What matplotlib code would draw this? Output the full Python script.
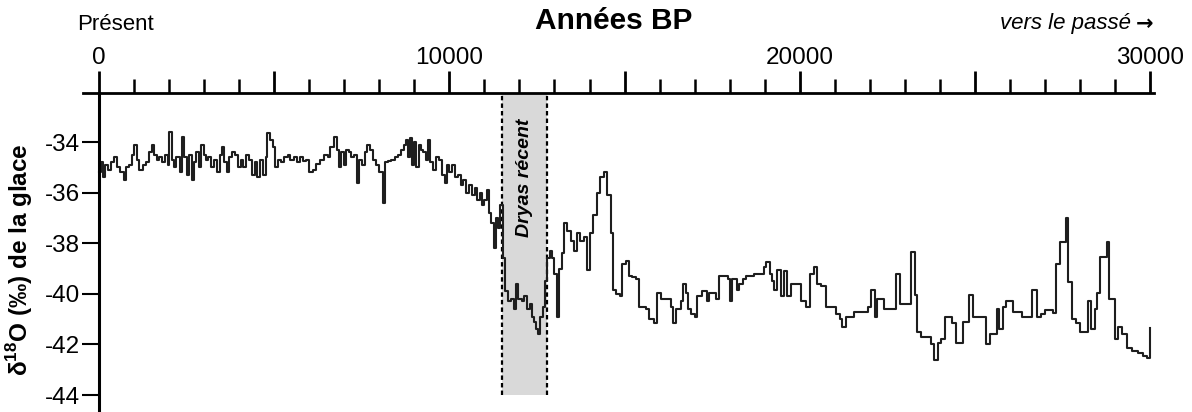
import matplotlib.pyplot as plt
from matplotlib.ticker import FixedLocator, FixedFormatter

plt.rcParams['font.family'] = ['Liberation Sans', 'DejaVu Sans']
plt.rcParams['mathtext.fontset'] = 'custom'
plt.rcParams['mathtext.rm'] = 'Liberation Sans'
plt.rcParams['mathtext.bf'] = 'Liberation Sans:bold'

# Years BP and d18O values (step curve)
years = [0, 60, 120, 180, 260, 340, 420, 500, 600, 700, 780, 860, 940, 1000,
         1080, 1150, 1250, 1330, 1420, 1500, 1560, 1640, 1720, 1800, 1880,
         1960, 2000, 2080, 2140, 2200, 2300, 2360, 2420, 2500, 2560, 2640,
         2700, 2780, 2860, 2920, 3000, 3060, 3120, 3200, 3280, 3360, 3440,
         3500, 3560, 3640, 3720, 3800, 3880, 3960, 4040, 4120, 4200, 4280,
         4360, 4440, 4520, 4600, 4680, 4760, 4800, 4880, 4960, 5020, 5120,
         5200, 5280, 5380, 5460, 5560, 5660, 5740, 5820,
         5900, 6000, 6100, 6200, 6320, 6420, 6520, 6600, 6700, 6780, 6840,
         6900, 6980, 7040, 7120, 7200, 7280, 7360, 7420, 7500, 7580, 7660,
         7740, 7820, 7900, 8000, 8100, 8160, 8240, 8340, 8440, 8540, 8620,
         8700, 8760, 8820, 8880, 8940, 9000, 9060, 9120, 9180, 9260, 9340,
         9400, 9460, 9540, 9620, 9700, 9780, 9860, 9920, 10000, 10080, 10160,
         10240, 10320, 10400, 10480, 10560, 10640, 10720, 10800, 10860, 10940,
         11000, 11060, 11120, 11200, 11260, 11320, 11380, 11440, 11520, 11580,
         11660, 11760, 11840, 11900, 11960, 12060, 12140, 12220, 12300, 12360,
         12420, 12480, 12540, 12600, 12660, 12740, 12800, 12860, 12940, 13000,
         13060, 13120, 13200, 13280, 13360, 13460, 13560, 13640, 13740, 13840,
         13920, 14000, 14100, 14200, 14300, 14420, 14500, 14600, 14660, 14760,
         14860, 14940, 15040, 15120, 15220, 15340, 15420, 15600, 15700, 15840,
         15920, 16040, 16340, 16380, 16460, 16600, 16660, 16760, 16820, 16900,
         17000, 17080, 17220, 17360, 17420, 17600, 17700, 17940, 18000, 18080,
         18200, 18280, 18380, 18480, 18700, 18980, 19040, 19140, 19200, 19280,
         19360, 19460, 19560, 19640, 19760, 20040, 20180, 20280, 20420, 20500,
         20600, 20760, 21040, 21140, 21220, 21320, 21560, 21940, 22040, 22140,
         22220, 22420, 22760, 22860, 23180, 23280, 23360, 23460, 23760, 23840,
         23940, 24040, 24140, 24360, 24460, 24660, 24840, 24940, 25320, 25420,
         25620, 25700, 25800, 25900, 26100, 26360, 26640, 26760, 26900, 27000,
         27220, 27320, 27420, 27600, 27660, 27760, 27900, 28000, 28220, 28330,
         28420, 28500, 28560, 28760, 28840, 28990, 29080, 29200, 29340, 29500,
         29650, 29800, 29920, 30000]
d18o = [-35.2, -34.8, -35.4, -34.9, -35.1, -34.8, -34.6, -35.0, -35.2, -35.5,
        -35.0, -34.9, -34.5, -34.1, -34.7, -35.1, -34.9, -34.8, -34.4, -34.1,
        -34.5, -34.7, -34.6, -34.8, -34.5, -34.9, -33.6, -34.7, -35.0, -34.6,
        -35.2, -33.8, -34.6, -35.3, -34.5, -35.5, -34.8, -34.4, -35.0, -34.1,
        -34.5, -34.7, -34.6, -35.0, -34.7, -35.2, -34.5, -34.2, -34.8, -35.2,
        -34.6, -34.4, -34.5, -35.0, -34.7, -35.0, -34.5, -34.7, -35.3, -34.8,
        -35.4, -34.7, -35.3, -34.6, -33.65, -33.9, -34.2, -35.0, -34.7, -34.8,
        -34.6, -34.5, -34.7, -34.6, -34.8, -34.6, -34.75,
        -34.7, -35.2, -35.1, -34.85, -34.7, -34.5, -34.6, -34.2, -33.8, -34.3,
        -35.0, -34.4, -34.9, -34.3, -34.4, -34.6, -34.5, -35.6, -34.7, -34.9,
        -34.4, -34.1, -34.3, -34.7, -34.9, -35.2, -36.4, -34.8, -34.75, -34.7,
        -34.6, -34.5, -34.3, -34.1, -33.9, -34.6, -33.85, -34.9, -34.0, -35.0,
        -34.1, -34.3, -34.4, -34.7, -33.9, -34.8, -35.1, -34.6, -34.7, -35.3,
        -35.6, -34.9, -35.2, -34.9, -35.4, -35.3, -35.7, -35.5, -36.0, -35.7,
        -36.1, -35.8, -36.3, -36.0, -36.5, -36.3, -35.9, -36.8, -37.2, -38.2,
        -37.0, -37.4, -36.5, -38.6, -39.9, -40.3, -40.2, -40.6, -39.6, -40.2,
        -40.3, -40.1, -40.6, -40.4, -40.9, -41.1, -41.4, -41.6, -40.9, -40.5,
        -39.5, -38.6, -38.3, -38.6, -39.2, -40.9, -39.0, -38.4, -37.2, -37.5,
        -37.9, -38.3, -37.6, -37.9, -37.75, -39.05, -37.6, -36.9, -36.0, -35.4,
        -35.2, -36.1, -37.6, -39.85, -40.0, -40.1, -38.8, -38.7, -39.3, -39.35,
        -39.4, -40.5, -40.6, -41.0, -41.15, -39.95, -40.2, -40.5, -41.15, -40.6,
        -40.3, -39.6, -39.95, -40.6, -40.8, -40.9, -40.1, -39.9, -40.3, -39.95,
        -40.2, -39.3, -39.4, -40.3, -39.4, -39.85, -39.6, -39.4, -39.3, -39.2,
        -38.95, -38.75, -39.2, -39.5, -39.85, -39.05, -40.1, -39.1, -40.1, -39.6,
        -40.3, -40.5, -39.2, -38.95, -39.6, -39.7, -40.5, -40.8, -41.0, -41.3,
        -40.9, -40.7, -40.5, -39.85, -40.9, -40.2, -40.6, -39.2, -40.4, -38.35,
        -40.05, -41.5, -41.7, -42.0, -42.6, -41.95, -41.8, -40.9, -41.15, -41.95,
        -41.1, -40.05, -40.9, -42.0, -41.6, -40.6, -41.4, -40.5, -40.3, -40.7,
        -40.9, -39.85, -40.9, -40.8, -40.65, -40.75, -38.8, -37.95, -37.0, -39.55,
        -41.0, -41.15, -41.5, -40.3, -41.4, -40.6, -39.95, -38.55, -37.95, -40.2,
        -41.8, -41.3, -41.6, -42.15, -42.25, -42.35, -42.45, -42.55, -41.35]

x_labels = [0, 10000, 20000, 30000]
y_ticks = [-44, -42, -40, -38, -36, -34]
dryas = (11500, 12800)

fig = plt.figure(figsize=(11.92, 4.12), dpi=100)
ax = fig.add_axes([83 / 1192, 0, 1070.5 / 1192, 1 - 93 / 412])
ax.set_xlim(-460, 30100)
ax.set_ylim(-44.67, -32.06)

# Younger Dryas band
ax.fill_between(dryas, -44.0, -32.06, color='#d9d9d9', lw=0, zorder=0)
ax.vlines(dryas, -44.0, -32.06, colors='black', lw=1.6,
          linestyles=(0, (2, 1.4)), zorder=1)
ax.text(sum(dryas) / 2, -35.42, 'Dryas récent', rotation=90, ha='center',
        va='center', fontsize=14, style='italic', fontweight='bold')

ax.step(years, d18o, where='post', color='#1e1e1e', lw=1.5, zorder=2)

# axes
for s in ['right', 'bottom']:
    ax.spines[s].set_visible(False)
ax.spines['top'].set_linewidth(2)
ax.spines['left'].set_linewidth(2.2)
ax.spines['left'].set_position(('data', 0))

ax.xaxis.tick_top()
majors = list(range(0, 30001, 5000))
ax.xaxis.set_major_locator(FixedLocator(majors))
ax.xaxis.set_major_formatter(FixedFormatter(
    [str(m) if m in x_labels else '' for m in majors]))
ax.xaxis.set_minor_locator(FixedLocator(
    [m for m in range(1000, 30000, 1000) if m % 5000]))
ax.tick_params(axis='x', which='major', direction='out', length=16,
               width=2, labelsize=17.5, pad=1)
ax.tick_params(axis='x', which='minor', direction='out', length=10, width=1.8)

ax.yaxis.set_major_locator(FixedLocator(y_ticks))
ax.yaxis.set_major_formatter(FixedFormatter([str(v) for v in y_ticks]))
ax.tick_params(axis='y', direction='out', length=12, width=1.5,
               labelsize=17.5, pad=2)

fig.text(20 / 1192, 1 - 260 / 412, r'δ$^{\mathbf{18}}$O (‰) de la glace',
         rotation=90, ha='center', va='center', fontsize=17.5,
         fontweight='bold')
fig.text(614 / 1192, 1 - 21 / 412, 'Années BP', ha='center', va='center',
         fontsize=21.5, fontweight='bold')
fig.text(77 / 1192, 1 - 24 / 412, 'Présent', ha='left', va='center',
         fontsize=16)
fig.text(1131 / 1192, 1 - 24 / 412, 'vers le passé', ha='right',
         va='center', fontsize=16, style='italic')
fig.text(1153 / 1192, 1 - 24 / 412, '→', ha='right', va='center',
         fontsize=15, fontweight='bold', family='DejaVu Sans')

fig.savefig('out.png', dpi=100)
